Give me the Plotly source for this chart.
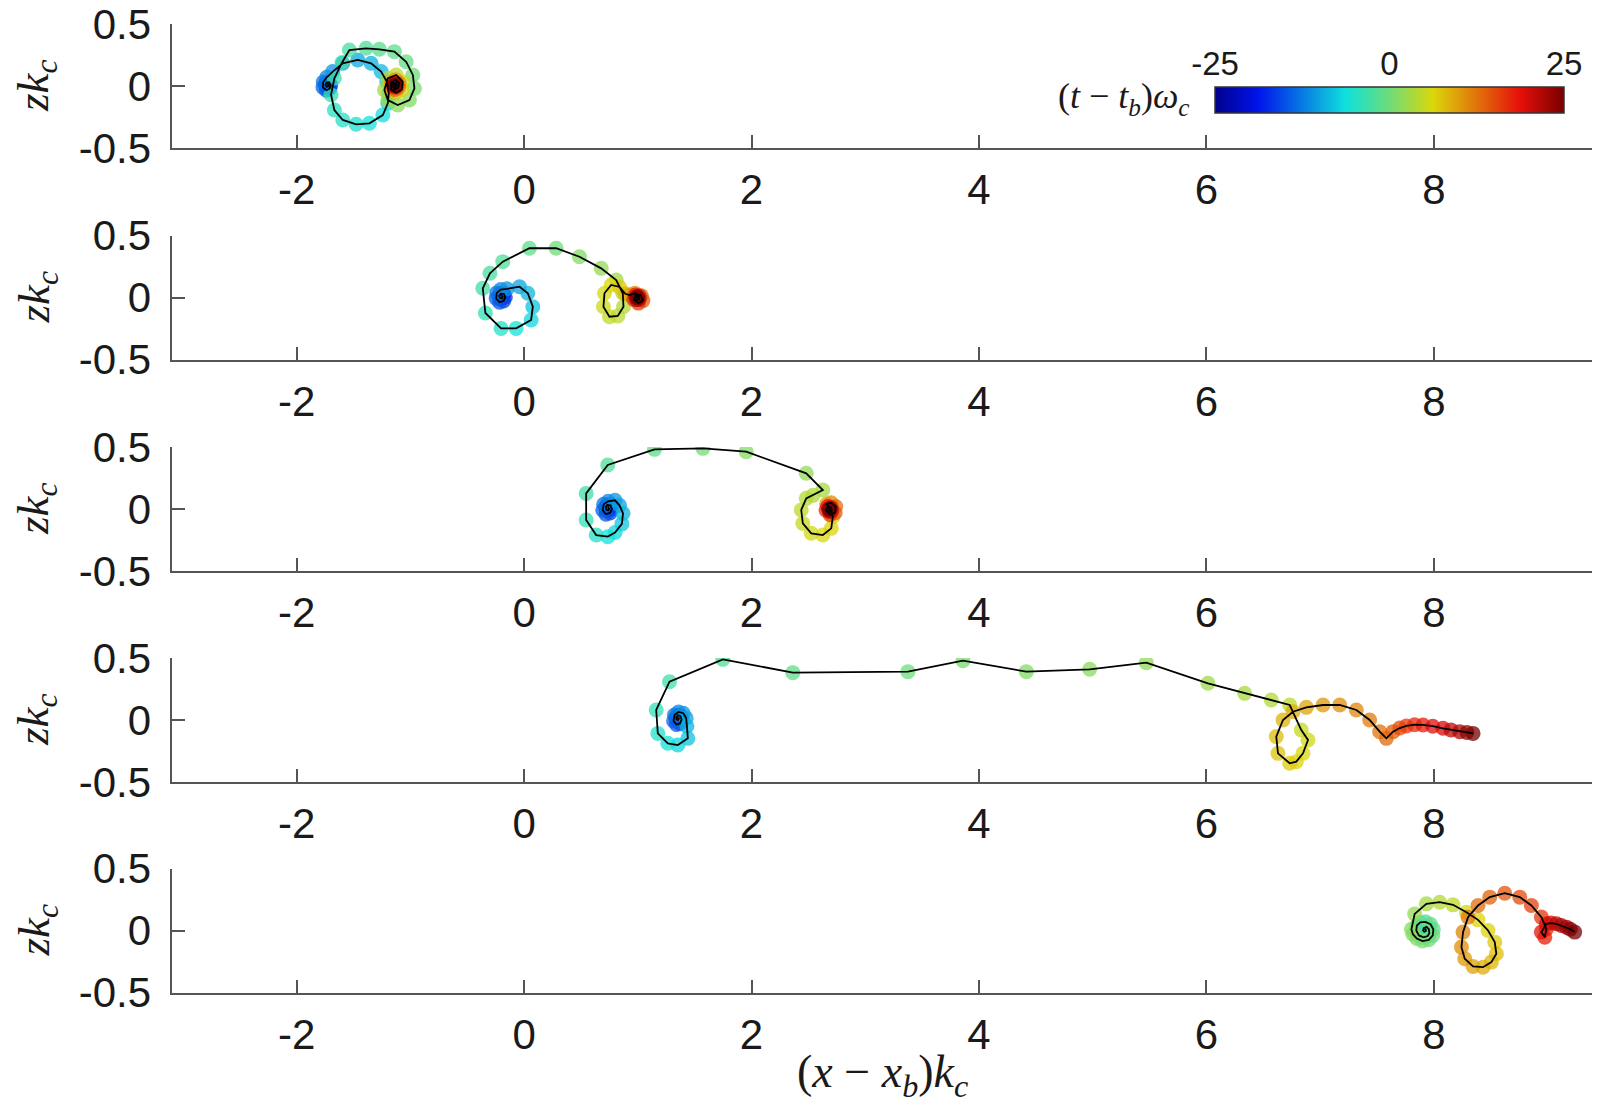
import plotly.graph_objects as go

# ---------------- data ----------------
# Panel 1
p1_x = [-1.730, -1.725, -1.718, -1.722, -1.737, -1.746, -1.738, -1.714, -1.700, -1.708, -1.738, -1.768, -1.766, -1.735,
        -1.682, -1.594, -1.462, -1.345, -1.257, -1.207, -1.190, -1.198, -1.242, -1.360, -1.477, -1.594, -1.668, -1.697,
        -1.668, -1.600, -1.536, -1.389, -1.272, -1.140, -1.037, -0.978, -0.964, -1.008, -1.111, -1.198, -1.228, -1.198,
        -1.125, -1.067, -1.075, -1.125, -1.170, -1.168, -1.130, -1.100, -1.105, -1.135, -1.158, -1.150, -1.128, -1.118,
        -1.132, -1.148, -1.142, -1.130, -1.130, -1.140, -1.136]
p1_z = [0.008, 0.014, 0.006, -0.004, -0.006, 0.010, 0.027, 0.030, 0.010, -0.020, -0.034, -0.012, 0.032, 0.070,
        0.116, 0.183, 0.210, 0.183, 0.116, 0.035, -0.060, -0.140, -0.234, -0.301, -0.309, -0.274, -0.194, -0.070,
        0.062, 0.190, 0.290, 0.304, 0.296, 0.277, 0.196, 0.089, -0.019, -0.113, -0.153, -0.113, -0.032, 0.062,
        0.089, 0.035, -0.030, -0.055, -0.025, 0.030, 0.050, 0.025, -0.012, -0.028, -0.005, 0.025, 0.025, 0.005,
        -0.010, 0.002, 0.016, 0.012, 0.000, 0.004, 0.008]
p1_t = [-25, -24, -23, -22, -21, -20, -19, -18, -17, -16, -15, -14, -13, -12,
        -11, -10.4, -9.8, -9.2, -8.6, -8, -7.5, -7, -6.5, -6, -5.5, -5, -4.5, -4,
        -3.5, -3, -2.5, -2, -1.5, -1, -0.5, 0, 0.5, 1, 1.7, 2.4, 3.1, 3.8,
        4.6, 5.5, 6.5, 7.5, 8.5, 9.5, 10.5, 11.5, 12.5, 13.5, 14.5, 15.5, 16.5, 17.5,
        18.5, 19.5, 20.5, 21.5, 22.5, 23.5, 25]

# Panel 2
p2_x = [-0.200, -0.195, -0.188, -0.194, -0.211, -0.219, -0.205, -0.178, -0.165, -0.180, -0.215, -0.245, -0.240, -0.205,
        -0.150, -0.040, 0.033, 0.077, 0.062, -0.070, -0.202, -0.340, -0.363, -0.300, -0.187, 0.047, 0.282, 0.487,
        0.678, 0.810, 0.868, 0.874, 0.824, 0.751, 0.698, 0.707, 0.766, 0.840, 0.890, 0.927, 0.975, 1.030, 1.045,
        1.005, 0.965, 0.980, 1.012, 1.012, 0.990, 0.984, 0.996, 1.000]
p2_z = [0.007, 0.013, 0.005, -0.006, -0.005, 0.013, 0.031, 0.029, 0.002, -0.028, -0.038, -0.008, 0.037, 0.064,
        0.070, 0.087, 0.034, -0.074, -0.181, -0.249, -0.249, -0.125, 0.074, 0.195, 0.289, 0.397, 0.397, 0.329,
        0.235, 0.141, 0.034, -0.074, -0.149, -0.155, -0.074, 0.034, 0.101, 0.085, 0.030, 0.020, 0.035, 0.015, -0.025,
        -0.045, -0.015, 0.020, 0.012, -0.015, -0.018, 0.002, 0.006, -0.004]
p2_t = [-25, -24, -23, -22, -21, -20, -19, -18, -17, -16, -15, -14, -13, -12,
        -11, -10, -9, -8, -7, -6, -5, -4, -3, -2.5, -2, -1, 0, 1,
        2, 2.8, 3.3, 3.8, 4.3, 4.8, 5.3, 5.8, 6.3, 7, 8, 9.5, 11, 12.5, 14,
        15.5, 17, 18.5, 19.5, 20.5, 21.5, 22.5, 23.5, 25]

# Panel 3
p3_x = [0.736, 0.742, 0.748, 0.740, 0.724, 0.718, 0.732, 0.760, 0.772, 0.756, 0.720, 0.692, 0.700, 0.740,
        0.800, 0.839, 0.870, 0.860, 0.800, 0.736, 0.634, 0.546, 0.546, 0.736, 1.147, 1.572, 1.953, 2.481,
        2.627, 2.540, 2.481, 2.437, 2.451, 2.525, 2.627, 2.701, 2.715, 2.690, 2.660, 2.700, 2.740, 2.735,
        2.690, 2.655, 2.670, 2.700, 2.705, 2.685, 2.678, 2.690, 2.688]
p3_z = [0.005, 0.012, 0.002, -0.010, -0.006, 0.014, 0.032, 0.030, 0.000, -0.032, -0.042, -0.010, 0.038, 0.062,
        0.070, 0.030, -0.035, -0.120, -0.190, -0.223, -0.210, -0.089, 0.126, 0.355, 0.481, 0.489, 0.462, 0.288,
        0.153, 0.110, 0.086, -0.008, -0.116, -0.196, -0.210, -0.156, -0.062, 0.010, 0.040, 0.050, 0.020, -0.030,
        -0.045, -0.010, 0.020, 0.012, -0.015, -0.020, -0.002, 0.004, -0.005]
p3_t = [-25, -24, -23, -22, -21, -20, -19, -18, -17, -16, -15, -14, -13, -12,
        -11, -10, -9, -8, -7, -6, -5, -4, -3, -2, -1, 0, 1, 2,
        3, 3.5, 4, 4.5, 5, 5.5, 6, 6.5, 7.2, 8.2, 9.5, 11, 12.5, 14,
        15.5, 17, 18.5, 19.5, 20.5, 21.5, 22.5, 23.5, 25]

# Panel 4
p4_x = [1.352, 1.357, 1.362, 1.355, 1.342, 1.338, 1.352, 1.375, 1.385, 1.372, 1.340, 1.315, 1.322, 1.358,
        1.400, 1.425, 1.432, 1.440, 1.352, 1.264, 1.176, 1.162, 1.279, 1.748, 2.363, 3.375, 3.859, 4.416,
        4.973, 5.471, 6.013, 6.336, 6.570, 6.732, 6.834, 6.893, 6.849, 6.790, 6.732, 6.629, 6.614, 6.673,
        6.761, 6.878, 7.025, 7.172, 7.318, 7.435, 7.523, 7.582, 7.641, 7.700, 7.758, 7.830, 7.904, 7.990,
        8.080, 8.150, 8.227, 8.290, 8.344]
p4_z = [0.013, 0.020, 0.010, 0.000, 0.004, 0.022, 0.038, 0.032, 0.005, -0.028, -0.036, -0.008, 0.040, 0.065,
        0.055, 0.015, -0.050, -0.148, -0.202, -0.188, -0.108, 0.081, 0.309, 0.489, 0.382, 0.390, 0.478, 0.390,
        0.409, 0.462, 0.296, 0.215, 0.161, 0.121, -0.081, -0.161, -0.269, -0.336, -0.349, -0.269, -0.134, 0.000,
        0.067, 0.102, 0.121, 0.121, 0.081, 0.000, -0.094, -0.148, -0.094, -0.065, -0.048, -0.038, -0.040, -0.050,
        -0.067, -0.080, -0.094, -0.100, -0.108]
p4_t = [-25, -24, -23, -22, -21, -20, -19, -18, -17, -16, -15, -14, -13, -12,
        -11, -10, -9, -8, -7, -6, -5, -4, -3, -2, -1, 0, 0.5, 1,
        1.5, 2, 2.6, 3.2, 3.8, 4.4, 5, 5.5, 6, 6.5, 7, 7.5, 8, 8.5,
        9, 9.6, 10.2, 10.8, 11.4, 12, 12.6, 13.2, 14, 15, 16, 17, 18, 19,
        20, 21, 22, 23.5, 25]

# Panel 5
p5_x = [7.919, 7.919, 7.920, 7.921, 7.925, 7.930, 7.928, 7.915, 7.905, 7.910, 7.935, 7.955, 7.960, 7.945,
        7.910, 7.868, 7.845, 7.850, 7.880, 7.925, 7.970, 7.995, 7.990, 7.955, 7.900, 7.850, 7.815, 7.802,
        7.831, 7.934, 8.051, 8.168, 8.286, 8.388, 8.476, 8.535, 8.549, 8.505, 8.432, 8.344,
        8.271, 8.242, 8.256, 8.300, 8.388, 8.491, 8.623, 8.755, 8.857, 8.945, 8.989, 8.975, 8.945, 8.989,
        9.030, 9.077, 9.120, 9.165, 9.200, 9.238]
p5_z = [0.005, 0.005, 0.006, 0.007, 0.010, 0.005, -0.005, -0.010, 0.000, 0.020, 0.030, 0.010, -0.020, -0.045,
        -0.055, -0.040, 0.000, 0.040, 0.065, 0.070, 0.050, 0.010, -0.040, -0.075, -0.085, -0.065, -0.030, 0.010,
        0.134, 0.215, 0.228, 0.207, 0.148, 0.086, 0.000, -0.094, -0.188, -0.255, -0.296, -0.290,
        -0.228, -0.134, -0.013, 0.108, 0.202, 0.269, 0.301, 0.269, 0.202, 0.108, 0.013, -0.054, -0.013, 0.054,
        0.060, 0.054, 0.040, 0.027, 0.010, -0.013]
p5_t = [-25, -22, -19, -16, -13, -11, -10, -9, -8, -7, -6, -5.5, -5, -4.5,
        -4, -3.5, -3, -2.5, -2, -1.6, -1.2, -0.8, -0.4, 0, 0.4, 0.8, 1.2, 1.6,
        2.2, 3, 3.8, 4.6, 5.3, 6, 6.6, 7.2, 7.8, 8.4, 9, 9.6,
        10.2, 10.8, 11.5, 12.2, 12.9, 13.6, 14.3, 15, 15.7, 16.4, 17.1, 17.8, 18.5, 19.2,
        20, 21, 22, 23, 24, 25]

panels_x = [p1_x, p2_x, p3_x, p4_x, p5_x]
panels_z = [p1_z, p2_z, p3_z, p4_z, p5_z]
panels_t = [p1_t, p2_t, p3_t, p4_t, p5_t]

x_tickvals = [-2, 0, 2, 4, 6, 8]
x_ticktext = ["-2", "0", "2", "4", "6", "8"]
y_tickvals = [-0.5, 0, 0.5]
y_ticktext = ["-0.5", "0", "0.5"]
cbar_tickvals = [-25, 0, 25]
cbar_ticktext = ["-25", "0", "25"]
x_range = [-3.1, 9.39]
y_range = [-0.5, 0.5]
t_range = [-25, 25]

# ---------------- styling ----------------
W, H = 1597, 1111
jet = [[0.0, "rgb(0,0,140)"], [0.125, "rgb(0,20,235)"], [0.375, "rgb(15,225,220)"],
       [0.5, "rgb(110,220,120)"], [0.625, "rgb(220,215,10)"], [0.875, "rgb(230,15,10)"],
       [1.0, "rgb(120,0,0)"]]
axis_col = "#555555"
sans = "Liberation Sans"
tick_font = dict(family=sans, size=42, color="#1a1a1a")
serif = "Liberation Serif"

x_dom = [171.5 / W, 1592 / W]
centers = [86, 297.5, 509, 720, 930.5]
half = 62

fig = go.Figure()
layout = dict(width=W, height=H, autosize=False,
              margin=dict(l=0, r=0, t=0, b=0, pad=0, autoexpand=False),
              paper_bgcolor="white", plot_bgcolor="white", showlegend=False)

for i in range(5):
    k = "" if i == 0 else str(i + 1)
    xa, ya = "x" + k, "y" + k
    cy = centers[i]
    y_dom = [1 - (cy + half) / H, 1 - (cy - half) / H]
    layout["xaxis" + k] = dict(domain=x_dom, range=x_range, anchor=ya, showline=True, linecolor=axis_col,
                               linewidth=2, ticks="inside", ticklen=13, tickwidth=2, tickcolor=axis_col,
                               tickvals=x_tickvals, ticktext=x_ticktext, tickfont=tick_font,
                               showgrid=False, zeroline=False, ticklabelstandoff=4, automargin=False,
                               fixedrange=True)
    layout["yaxis" + k] = dict(domain=y_dom, range=y_range, anchor=xa, showline=True, linecolor=axis_col,
                               linewidth=2, ticks="inside", ticklen=13, tickwidth=2, tickcolor=axis_col,
                               tickvals=y_tickvals, ticktext=y_ticktext, tickfont=tick_font,
                               showgrid=False, zeroline=False, ticklabelstandoff=10, automargin=False,
                               fixedrange=True)
    marker = dict(size=15, color=panels_t[i], colorscale=jet, cmin=t_range[0], cmax=t_range[1],
                  opacity=0.75, line=dict(width=0), showscale=(i == 0))
    if i == 0:
        marker["colorbar"] = dict(orientation="h", x=(1215 + 1564) / 2 / W, xanchor="center",
                                  y=1 - 87 / H, yanchor="top", lenmode="pixels", len=349,
                                  thicknessmode="pixels", thickness=26, outlinewidth=1.5,
                                  outlinecolor="#333333", showticklabels=False, ticks="",
                                  xpad=0, ypad=0)
    fig.add_trace(go.Scatter(x=panels_x[i], y=panels_z[i], mode="markers", marker=marker,
                             xaxis=xa, yaxis=ya, hoverinfo="skip"))
    fig.add_trace(go.Scatter(x=panels_x[i], y=panels_z[i], mode="lines",
                             line=dict(color="black", width=1.8), xaxis=xa, yaxis=ya,
                             hoverinfo="skip"))

# axis carrying the colorbar tick labels (on top of the bar)
layout["xaxis6"] = dict(domain=[1215 / W, 1564 / W], range=t_range, anchor="y6", side="top",
                        tickvals=cbar_tickvals, ticktext=cbar_ticktext, showline=False, ticks="",
                        showgrid=False, zeroline=False, automargin=False,
                        tickfont=dict(family=sans, size=33, color="#1a1a1a"),
                        ticklabelstandoff=4, fixedrange=True)
layout["yaxis6"] = dict(domain=[1 - 113 / H, 1 - 87 / H], range=[0, 1], anchor="x6", visible=False,
                        fixedrange=True)
fig.add_trace(go.Scatter(x=[None], y=[None], xaxis="x6", yaxis="y6", mode="markers",
                         hoverinfo="skip"))

annotations = []
for i in range(5):
    annotations.append(dict(text="<i>zk</i><sub><i>c</i></sub>", x=36 / W, y=1 - centers[i] / H,
                            xref="paper", yref="paper", showarrow=False, textangle=-90,
                            font=dict(family=serif, size=45, color="#1a1a1a"),
                            xanchor="center", yanchor="middle"))
annotations.append(dict(text="(<i>x</i> \u2212 <i>x</i><sub><i>b</i></sub>)<i>k</i><sub><i>c</i></sub>",
                        x=882 / W, y=1 - 1106 / H, xref="paper", yref="paper", showarrow=False,
                        font=dict(family=serif, size=46, color="#1a1a1a"),
                        xanchor="center", yanchor="bottom"))
annotations.append(dict(text="(<i>t</i> \u2212 <i>t</i><sub><i>b</i></sub>)<i>\u03c9</i><sub><i>c</i></sub>",
                        x=1192 / W, y=1 - 99 / H, xref="paper", yref="paper", showarrow=False,
                        font=dict(family=serif, size=36, color="#1a1a1a"),
                        xanchor="right", yanchor="middle"))
layout["annotations"] = annotations

fig.update_layout(**layout)
fig.write_html("out.html")
